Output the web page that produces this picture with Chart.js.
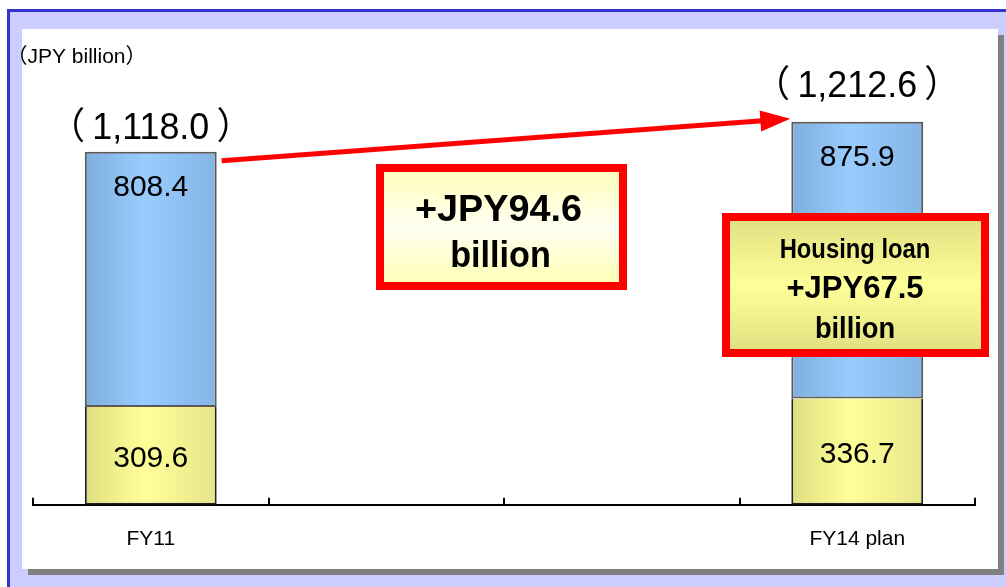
<!DOCTYPE html>
<html>
<head>
<meta charset="utf-8">
<script src="https://cdn.jsdelivr.net/npm/chart.js@4/dist/chart.umd.min.js"></script>
<style>
  html, body { margin: 0; padding: 0; background: #ffffff; }
  #stage { position: relative; width: 1006px; height: 587px; overflow: hidden; }
  .frame { position: absolute; left: 7px; top: 9px; right: 0; bottom: 0; background: #ccccff;
           border-left: 3px solid #3333cc; border-top: 3px solid #3333cc; box-sizing: border-box; }
  .shadow { position: absolute; left: 28px; top: 35px; width: 976px; height: 540px; background: #808080; }
  .panel { position: absolute; left: 22px; top: 29px; width: 976px; height: 540px; background: #ffffff; }
  canvas { position: absolute; left: 0; top: 0; }
</style>
</head>
<body>
<div id="stage">
  <div class="frame"></div>
  <div class="shadow"></div>
  <div class="panel"></div>
  <canvas id="chart" width="1006" height="587"></canvas>
</div>
<script>
// Loan balance by fiscal year (JPY billion)
const categories = ['FY11', '', '', 'FY14 plan'];
const otherLoans = [309.6, null, null, 336.7];
const housingLoans = [808.4, null, null, 875.9];
const unitLabel = '（JPY billion）';

const FONT = "'Liberation Sans', Arial, 'Noto Sans CJK JP', sans-serif";
const BAR_PCT = 0.56;

const fmt = new Intl.NumberFormat('en-US', { minimumFractionDigits: 1, maximumFractionDigits: 1 });

function barGradient(c, left, mid, right) {
  const chart = c.chart;
  const xs = chart.scales && chart.scales.x;
  if (!xs || c.dataIndex === undefined || !xs.width) return mid;
  const cx = xs.getPixelForValue(c.dataIndex);
  const w = (xs.width / categories.length) * BAR_PCT;
  const g = chart.ctx.createLinearGradient(cx - w / 2, 0, cx + w / 2, 0);
  g.addColorStop(0, left);
  g.addColorStop(0.45, mid);
  g.addColorStop(1, right);
  return g;
}

function text(ctx, str, x, y, size, weight, sx, align) {
  ctx.save();
  ctx.translate(x, y);
  ctx.scale(sx, 1);
  ctx.font = weight + ' ' + size + 'px ' + FONT;
  ctx.fillStyle = '#000000';
  ctx.textAlign = align || 'center';
  ctx.textBaseline = 'alphabetic';
  ctx.fillText(str, 0, 0);
  ctx.restore();
}

function box(ctx, cx, cy, w, h, stops) {
  const x = cx - w / 2, y = cy - h / 2;
  const g = ctx.createLinearGradient(0, y, 0, y + h);
  g.addColorStop(0, stops[0]);
  g.addColorStop(0.5, stops[1]);
  g.addColorStop(1, stops[2]);
  ctx.fillStyle = g;
  ctx.fillRect(x, y, w, h);
  ctx.lineWidth = 8;
  ctx.strokeStyle = '#ff0000';
  ctx.strokeRect(x + 4, y + 4, w - 8, h - 8);
}

const annotations = {
  id: 'annotations',
  afterDatasetsDraw(chart) {
    const ctx = chart.ctx;
    const xs = chart.scales.x;
    const area = chart.chartArea;
    const lower = chart.getDatasetMeta(0).data;
    const upper = chart.getDatasetMeta(1).data;

    // upward tick marks at category boundaries
    ctx.save();
    ctx.strokeStyle = '#000000';
    ctx.lineWidth = 2;
    const step = xs.width / categories.length;
    for (let i = 0; i <= categories.length; i++) {
      const x = Math.round(xs.left + i * step);
      ctx.beginPath();
      ctx.moveTo(x, area.bottom);
      ctx.lineTo(x, area.bottom - 7);
      ctx.stroke();
    }
    ctx.restore();

    // values inside the bars and totals above
    const totalOffsets = [26, 38];
    let k = 0;
    const idx = [];
    categories.forEach((_, i) => {
      if (housingLoans[i] == null) return;
      idx.push(i);
      const top = upper[i], bot = lower[i];
      text(ctx, fmt.format(housingLoans[i]), top.x, top.y + 44, 30, 'normal', 1);
      text(ctx, fmt.format(otherLoans[i]), bot.x, (bot.y + bot.base) / 2 + 11, 30, 'normal', 1);
      const total = housingLoans[i] + otherLoans[i];
      text(ctx, '（\u2009' + fmt.format(total) + '\u2009）', top.x, top.y - totalOffsets[k] + 13.5, 37, 'normal', 0.97);
      k++;
    });

    // growth arrow from first to last bar
    const a = upper[idx[0]], b = upper[idx[idx.length - 1]];
    const x0 = a.x + a.width / 2 + 5, y0 = a.y + 9;
    const x1 = b.x - b.width / 2 - 1, y1 = b.y - 3;
    const ang = Math.atan2(y1 - y0, x1 - x0);
    const headLen = 30, headHalf = 10.5;
    const bx = x1 - headLen * Math.cos(ang), by = y1 - headLen * Math.sin(ang);
    ctx.save();
    ctx.strokeStyle = '#ff0000';
    ctx.fillStyle = '#ff0000';
    ctx.lineWidth = 5;
    ctx.beginPath();
    ctx.moveTo(x0, y0);
    ctx.lineTo(bx + 2 * Math.cos(ang), by + 2 * Math.sin(ang));
    ctx.stroke();
    ctx.beginPath();
    ctx.moveTo(x1, y1);
    ctx.lineTo(bx - headHalf * Math.sin(ang), by + headHalf * Math.cos(ang));
    ctx.lineTo(bx + headHalf * Math.sin(ang), by - headHalf * Math.cos(ang));
    ctx.closePath();
    ctx.fill();
    ctx.restore();

    const first = idx[0], last = idx[idx.length - 1];
    const totalGain = (housingLoans[last] + otherLoans[last]) - (housingLoans[first] + otherLoans[first]);
    const housingGain = housingLoans[last] - housingLoans[first];

    // total increase callout
    ctx.save();
    box(ctx, 501.5, 227, 251, 126, ['#ffffb4', '#fffff2', '#ffffb0']);
    text(ctx, '+JPY' + fmt.format(totalGain), 498.5, 221, 36, 'bold', 1.05);
    text(ctx, 'billion', 500.5, 267, 36, 'bold', 0.95);

    // housing loan increase callout
    box(ctx, 855.5, 285, 267, 144, ['#dede80', '#ffff99', '#dede80']);
    text(ctx, 'Housing loan', 855, 258, 28, 'bold', 0.85);
    text(ctx, '+JPY' + fmt.format(housingGain), 855, 298, 31, 'bold', 1.0);
    text(ctx, 'billion', 855, 338, 29, 'bold', 0.94);

    // unit caption
    text(ctx, unitLabel, 76.5, 63, 21, 'normal', 1);
    ctx.restore();
  }
};

new Chart(document.getElementById('chart'), {
  type: 'bar',
  data: {
    labels: categories,
    datasets: [
      {
        label: 'Other loans',
        data: otherLoans,
        backgroundColor: c => barGradient(c, '#dede80', '#ffff99', '#e6e68a'),
        borderColor: '#222222',
        borderWidth: 2,
        borderSkipped: 'top'
      },
      {
        label: 'Housing loans',
        data: housingLoans,
        backgroundColor: c => barGradient(c, '#7eaedc', '#99ccff', '#84b4e4'),
        borderColor: '#5a5a5a',
        borderWidth: 2,
        borderSkipped: false
      }
    ]
  },
  options: {
    responsive: false,
    devicePixelRatio: 1,
    animation: false,
    layout: { padding: { left: 33, right: 31, top: 31, bottom: 13 } },
    datasets: { bar: { barPercentage: BAR_PCT, categoryPercentage: 1.0 } },
    plugins: { legend: { display: false }, tooltip: { enabled: false } },
    scales: {
      x: {
        stacked: true,
        offset: true,
        grid: { display: false, drawTicks: false },
        border: { display: true, color: '#000000', width: 2 },
        ticks: { color: '#000000', padding: 22, font: { family: FONT, size: 21 } }
      },
      y: {
        stacked: true,
        display: false,
        min: 0,
        max: 1500
      }
    }
  },
  plugins: [annotations]
});
</script>
</body>
</html>
